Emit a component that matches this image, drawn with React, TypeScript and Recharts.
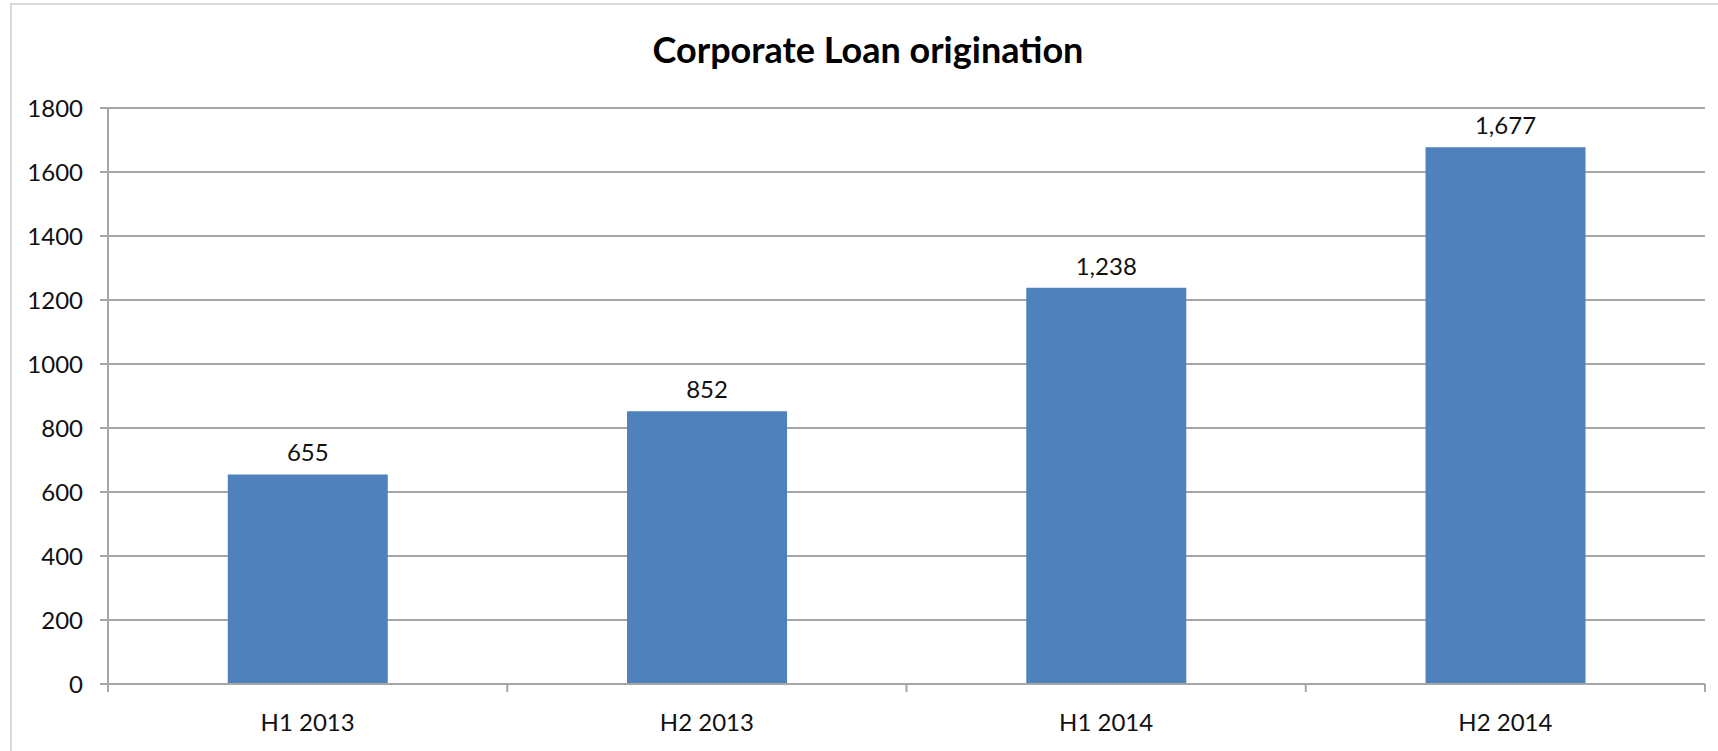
import React from 'react';
import { BarChart, Bar, XAxis, YAxis, CartesianGrid, LabelList } from 'recharts';

const categories = ['H1 2013', 'H2 2013', 'H1 2014', 'H2 2014'];
const loanValues = [655, 852, 1238, 1677];
const yTicks = [0, 200, 400, 600, 800, 1000, 1200, 1400, 1600, 1800];
const chartTitle = 'Corporate Loan origination';

const data = categories.map((c, i) => ({ name: c, value: loanValues[i] }));

const FONT = 'Lato, "Open Sans", sans-serif';
const AXIS_COLOR = '#a6a6a6';
const TEXT_COLOR = '#111111';

const XTick = (props: any) => {
  const { x, y, payload, index, visibleTicksCount } = props;
  const half = payload && payload.offset ? payload.offset : 0;
  const count = visibleTicksCount ?? categories.length;
  return (
    <g>
      <line x1={x - half} x2={x - half} y1={y} y2={y + 8} stroke={AXIS_COLOR} strokeWidth={2} />
      {index === count - 1 && (
        <line x1={x + half} x2={x + half} y1={y} y2={y + 8} stroke={AXIS_COLOR} strokeWidth={2} />
      )}
      <text x={x} y={y + 47} textAnchor="middle" fontFamily={FONT} fontSize={24} fill={TEXT_COLOR}>
        {payload.value}
      </text>
    </g>
  );
};

export default function App() {
  return (
    <div style={{ position: 'absolute', left: 0, top: 0, width: 1718, height: 751, background: '#fff' }}>
      <div
        style={{
          position: 'absolute',
          left: 10,
          top: 3,
          right: 0,
          bottom: 0,
          borderLeft: '2px solid #d9d9d9',
          borderTop: '2px solid #d9d9d9',
        }}
      />
      <div
        style={{
          position: 'absolute',
          left: 0,
          width: 1736,
          top: 28,
          textAlign: 'center',
          fontFamily: FONT,
          fontWeight: 700,
          fontSize: 36,
          color: '#000',
          lineHeight: '42px',
        }}
      >
        {chartTitle}
      </div>
      <div style={{ position: 'absolute', left: 0, top: 0 }}>
        <BarChart
          width={1718}
          height={751}
          data={data}
          margin={{ top: 108, right: 13, bottom: 27, left: 0 }}
          barCategoryGap="30%"
        >
          <CartesianGrid vertical={false} stroke={AXIS_COLOR} strokeWidth={2} />
          <YAxis
            width={108}
            domain={[0, 1800]}
            ticks={yTicks}
            interval={0}
            tickSize={8}
            tickMargin={17}
            axisLine={{ stroke: AXIS_COLOR, strokeWidth: 2 }}
            tickLine={{ stroke: AXIS_COLOR, strokeWidth: 2 }}
            tick={{ fontFamily: FONT, fontSize: 24, fill: TEXT_COLOR }}
          />
          <XAxis
            dataKey="name"
            height={40}
            interval={0}
            tickLine={false}
            tickMargin={0}
            tickSize={0}
            axisLine={{ stroke: AXIS_COLOR, strokeWidth: 2 }}
            tick={<XTick />}
          />
          <Bar dataKey="value" fill="#4f81bd" isAnimationActive={false}>
            <LabelList
              dataKey="value"
              position="top"
              offset={13}
              formatter={(v: any) => Number(v).toLocaleString('en-US')}
              style={{ fontFamily: FONT, fontSize: 24, fill: TEXT_COLOR }}
            />
          </Bar>
        </BarChart>
      </div>
    </div>
  );
}
